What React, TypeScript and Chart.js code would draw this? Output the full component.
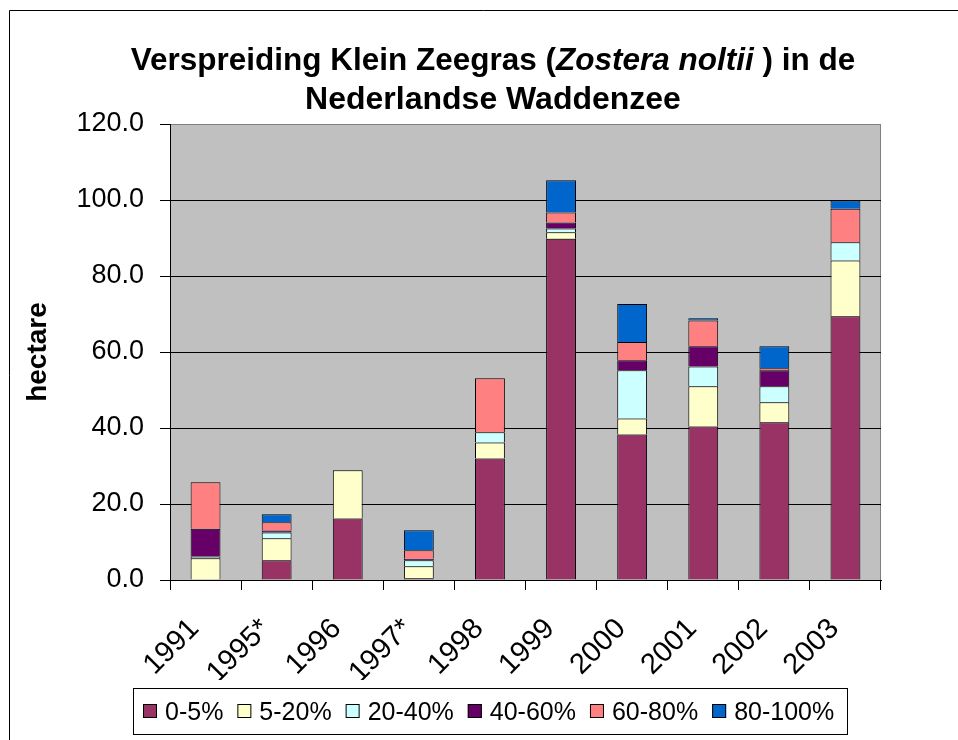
import React, { useEffect, useRef } from "react";
import { Chart, registerables } from "chart.js";
Chart.register(...registerables);

const years = ["1991", "1995*", "1996", "1997*", "1998", "1999", "2000", "2001", "2002", "2003"];
const seriesNames = ["0-5%", "5-20%", "20-40%", "40-60%", "60-80%", "80-100%"];
const s0_5 = [0, 5.2, 16.2, 0.45, 32.0, 89.8, 38.3, 40.4, 41.5, 69.4];
const s5_20 = [5.7, 5.8, 12.7, 3.15, 4.2, 1.7, 4.2, 10.6, 5.3, 14.7];
const s20_40 = [0.5, 1.5, 0, 1.6, 2.7, 1.0, 12.7, 5.2, 4.2, 4.8];
const s40_60 = [7.3, 0.5, 0, 0.4, 0, 1.6, 2.6, 5.3, 4.2, 0];
const s60_80 = [12.2, 2.2, 0, 2.2, 14.2, 2.6, 4.8, 6.8, 0.5, 8.8];
const s80_100 = [0, 2.1, 0, 5.3, 0, 8.5, 10.0, 0.6, 5.8, 2.2];
const colors = ["#993366", "#FFFFCC", "#CCFFFF", "#660066", "#FF8080", "#0066CC"];
const yTicks = [0, 20, 40, 60, 80, 100, 120];

const FONT = "'Liberation Sans', Arial, sans-serif";

const decor = {
  id: "decor",
  beforeDraw(chart: any) {
    const { ctx, chartArea: a } = chart;
    ctx.save();
    ctx.fillStyle = "#fff";
    ctx.fillRect(0, 0, chart.width, chart.height);
    ctx.fillStyle = "#C0C0C0";
    ctx.fillRect(a.left, a.top, a.right - a.left, a.bottom - a.top);
    ctx.strokeStyle = "#808080";
    ctx.lineWidth = 1;
    ctx.beginPath();
    ctx.moveTo(a.left, a.top + 0.5);
    ctx.lineTo(a.right - 0.5, a.top + 0.5);
    ctx.lineTo(a.right - 0.5, a.bottom);
    ctx.stroke();
    ctx.restore();
  },
  afterDraw(chart: any) {
    const { ctx } = chart;
    ctx.save();
    // outer border
    ctx.strokeStyle = "#000";
    ctx.lineWidth = 1;
    ctx.beginPath();
    ctx.moveTo(9.5, chart.height);
    ctx.lineTo(9.5, 10.5);
    ctx.lineTo(chart.width, 10.5);
    ctx.stroke();

    // title
    const cx = 493;
    const line1: [string, boolean][] = [
      ["Verspreiding Klein Zeegras (", false],
      ["Zostera noltii", true],
      [" ) in de", false],
    ];
    const fBold = `bold 31.5px ${FONT}`;
    const fBoldIt = `italic bold 31.5px ${FONT}`;
    let total = 0;
    for (const [t, it] of line1) {
      ctx.font = it ? fBoldIt : fBold;
      total += ctx.measureText(t).width;
    }
    let x = cx - total / 2;
    ctx.fillStyle = "#000";
    ctx.textBaseline = "alphabetic";
    ctx.textAlign = "left";
    for (const [t, it] of line1) {
      ctx.font = it ? fBoldIt : fBold;
      ctx.fillText(t, x, 70);
      x += ctx.measureText(t).width;
    }
    ctx.font = `bold 32px ${FONT}`;
    ctx.textAlign = "center";
    ctx.fillText("Nederlandse Waddenzee", cx, 109);

    // legend
    const bx = 133, by = 688, bw = 714, bh = 46;
    ctx.strokeStyle = "#000";
    ctx.strokeRect(bx + 0.5, by + 0.5, bw, bh);
    ctx.font = `25px ${FONT}`;
    ctx.textAlign = "left";
    const sq = 14, gapText = 8, gapItem = 14;
    let lx = 143;
    chart.data.datasets.forEach((ds: any) => {
      ctx.fillStyle = ds.backgroundColor;
      ctx.fillRect(lx, 704, sq, sq);
      ctx.strokeRect(lx + 0.5, 704.5, sq - 1, sq - 1);
      ctx.fillStyle = "#000";
      ctx.fillText(ds.label, lx + sq + gapText, 720);
      lx += sq + gapText + ctx.measureText(ds.label).width + gapItem;
    });
    ctx.restore();
  },
};

export default function App() {
  const ref = useRef<HTMLCanvasElement | null>(null);
  useEffect(() => {
    if (!ref.current) return;
    const data = [s0_5, s5_20, s20_40, s40_60, s60_80, s80_100];
    const chart = new Chart(ref.current, {
      type: "bar",
      data: {
        labels: years,
        datasets: seriesNames.map((n, i) => ({
          label: n,
          data: data[i],
          backgroundColor: colors[i],
          borderColor: "#000",
          borderWidth: { top: 1, left: 1, right: 1, bottom: 0 },
          borderSkipped: false,
          barPercentage: 0.42,
          categoryPercentage: 1,
        })),
      },
      options: {
        animation: false,
        responsive: true,
        maintainAspectRatio: false,
        layout: { padding: { top: 124, right: 77, bottom: 60, left: 0 } },
        plugins: { legend: { display: false }, title: { display: false }, tooltip: { enabled: false } },
        scales: {
          x: {
            stacked: true,
            afterFit: (s: any) => { s.height = 100; },
            grid: { offset: true, drawOnChartArea: false, color: "#000", tickLength: 10, tickColor: "#000" },
            border: { color: "#000", width: 1 },
            ticks: {
              minRotation: 45,
              maxRotation: 45,
              color: "#000",
              font: { family: FONT, size: 29 },
              padding: 22,
              labelOffset: -11,
              autoSkip: false,
            },
          },
          y: {
            stacked: true,
            min: 0,
            max: 120,
            afterFit: (s: any) => { s.width = 170; },
            afterBuildTicks: (s: any) => { s.ticks = yTicks.map((v) => ({ value: v })); },
            ticks: {
              color: "#000",
              padding: 16,
              font: { family: FONT, size: 27 },
              callback: (v: any) => Number(v).toFixed(1),
            },
            grid: {
              color: (c: any) => (c.tick && c.tick.value === 120 ? "#808080" : "#000"),
              tickColor: "#000",
              tickLength: 10,
              lineWidth: 1,
            },
            border: { color: "#000", width: 1 },
            title: {
              display: true,
              text: "hectare",
              color: "#000",
              font: { family: FONT, size: 28, weight: "bold" },
              padding: { top: 21, bottom: 0 },
            },
          },
        },
      },
      plugins: [decor],
    } as any);
    return () => chart.destroy();
  }, []);
  return (
    <div style={{ position: "absolute", left: 0, top: 0, width: 958, height: 740 }}>
      <canvas ref={ref} />
    </div>
  );
}
